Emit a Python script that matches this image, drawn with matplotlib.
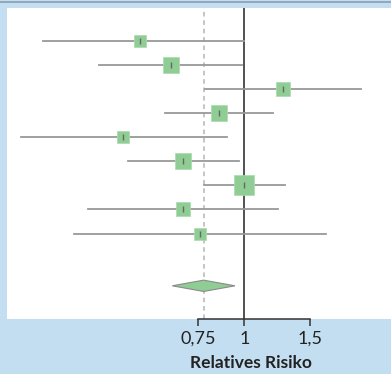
import matplotlib.pyplot as plt
from matplotlib.lines import Line2D
import numpy as np

# Forest plot: relative risk per study (log scale)
rr = [0.524, 0.632, 1.272, 0.852, 0.471, 0.684, 1.0, 0.681, 0.759]
ci_low = [0.286, 0.405, 0.784, 0.610, 0.250, 0.484, 0.778, 0.378, 0.347]
ci_high = [1.0, 0.983, 2.062, 1.191, 0.895, 0.968, 1.286, 1.231, 1.659]
weights = [7.1, 12.7, 9.0, 14.3, 7.7, 14.3, 19.8, 8.4, 6.8]

pooled_rr = 0.776
pooled_low = 0.639
pooled_high = 0.943

tick_values = [0.75, 1, 1.5]
tick_labels = ['0,75', '1', '1,5']
x_label = 'Relatives Risiko'

blue = '#c3def0'
green = '#8fcd94'

plt.rcParams['font.family'] = ['Lato', 'DejaVu Sans']

W, H = 391, 374
fig = plt.figure(figsize=(W / 100, H / 100), dpi=100, facecolor=blue)
ax = fig.add_axes([7 / W, 1 - 319.3 / H, (W - 7) / W, (319.3 - 8) / H])
ax.set_facecolor('white')

ax.set_xscale('log')
ax.set_xlim(0.229, 2.484)
ax.set_ylim(11.56, -1.36)

rows = np.arange(len(rr))
k = 20 / np.sqrt(max(weights))

ax.axvline(pooled_rr, color='#b5b5b5', lw=1.1, ls=(0, (3, 2.5)), zorder=1)
ax.axvline(1, color='#222222', lw=1.1, zorder=2)

for i in rows:
    ax.plot([ci_low[i], ci_high[i]], [i, i], color='#999999', lw=1.3, zorder=3)
    side = np.sqrt(weights[i]) * k
    ax.plot(rr[i], i, marker='s', ms=side * 0.72, color=green,
            mec='#a8dcac', mew=0.5, zorder=4)
    ax.plot(rr[i], i, marker='|', ms=5, color='#666666', mew=1, zorder=5)

# pooled diamond
yd = 10.17
h = 0.235
ax.fill([pooled_low, pooled_rr, pooled_high, pooled_rr],
        [yd, yd - h, yd, yd + h], facecolor=green, edgecolor='#8a8a8a',
        lw=0.8, zorder=4)

for s in ['top', 'right', 'left']:
    ax.spines[s].set_visible(False)
ax.spines['bottom'].set_bounds(tick_values[0], tick_values[-1])
ax.spines['bottom'].set_color('#333333')
ax.spines['bottom'].set_linewidth(1.1)
ax.set_yticks([])
ax.set_xticks(tick_values)
ax.set_xticklabels(tick_labels)
ax.xaxis.set_minor_locator(plt.NullLocator())
ax.tick_params(axis='x', direction='out', length=5, width=1.1, color='#333333',
               pad=3.5, labelsize=13, labelcolor='#222222')

fig.text(251 / W, 1 - 363 / H, x_label, ha='center', va='center',
         fontsize=12.5, fontweight='bold', color='#222222')

fig.add_artist(Line2D([0, 1], [1 - 1.8 / H, 1 - 1.8 / H], color='#8ea3b3',
                      lw=1.3, transform=fig.transFigure))

fig.savefig('out.png', dpi=100, facecolor=blue)
